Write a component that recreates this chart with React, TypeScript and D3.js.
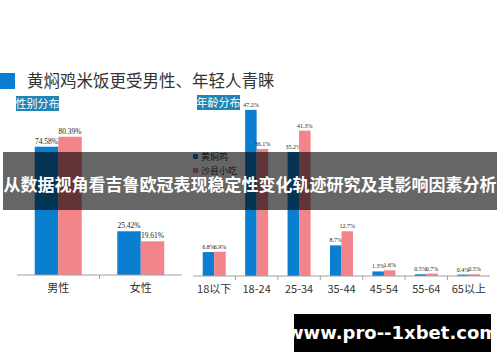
import React from 'react'
import * as d3 from 'd3'

// 性别分布
const genderCats = ['男性', '女性']
const hmjGender = [74.58, 25.42]
const sxGender = [80.39, 19.61]

// 年龄分布
const ageCats = ['18以下', '18-24', '25-34', '35-44', '45-54', '55-64', '65以上']
const hmjAge = [6.8, 47.2, 35.2, 8.7, 1.3, 0.5, 0.4]
const sxAge = [6.9, 36.1, 41.3, 12.7, 1.6, 0.7, 0.5]

const seriesNames = ['黄焖鸡', '沙县小吃']
const colors = ['#0a7fcf', '#f2848a']

const W = 500
const H = 362
const cjk = '"Noto Sans CJK SC", "Noto Sans", sans-serif'

const Bars = ({
  cats,
  a,
  b,
  x0,
  x1,
  base,
  top,
  max,
  group,
  fmt,
  labelSize,
}: {
  cats: string[]
  a: number[]
  b: number[]
  x0: number
  x1: number
  base: number
  top: number
  max: number
  group: number
  fmt: (v: number) => string
  labelSize: number
}) => {
  const x = d3.scaleBand<string>().domain(cats).range([x0, x1]).padding(0)
  const inner = d3.scaleBand<number>().domain([0, 1]).range([0, group]).padding(0)
  const y = d3.scaleLinear().domain([0, max]).range([base, top])
  const off = (x.bandwidth() - group) / 2
  return (
    <g>
      {cats.map((c, i) =>
        [a[i], b[i]].map((v, s) => {
          const bx = (x(c) ?? 0) + off + (inner(s) ?? 0)
          return (
            <g key={c + s}>
              <rect x={bx} y={y(v)} width={inner.bandwidth()} height={base - y(v)} fill={colors[s]} />
              <text
                x={bx + inner.bandwidth() / 2}
                y={y(v) - 3}
                textAnchor="middle"
                fontSize={labelSize}
                fontFamily='"Liberation Serif", serif'
                fill="#222"
              >
                {fmt(v)}
              </text>
            </g>
          )
        }),
      )}
      <line x1={x0} x2={x1} y1={base} y2={base} stroke="#a0a0a0" strokeWidth={1} />
      {d3.range(1, cats.length).map((i) => {
        const tx = x(cats[i]) ?? 0
        return <line key={i} x1={tx} x2={tx} y1={base} y2={base + 4} stroke="#a0a0a0" />
      })}
      {cats.map((c) => (
        <text
          key={c}
          x={(x(c) ?? 0) + x.bandwidth() / 2}
          y={base + 17}
          textAnchor="middle"
          fontSize={11}
          fontFamily={cjk}
          fill="#333"
        >
          {c}
        </text>
      ))}
    </g>
  )
}

const App = () => {
  return (
    <div style={{ position: 'absolute', left: 0, top: 0 }}>
      <svg width={W} height={H} style={{ display: 'block' }}>
        <rect width={W} height={H} fill="#fff" />
        {/* title */}
        <rect x={0} y={73} width={15} height={16} fill="#0a7fcf" />
        <text x={27} y={87} fontSize={16.5} fontFamily={cjk} fill="#333">
          黄焖鸡米饭更受男性、年轻人青睐
        </text>
        <rect x={16} y={96} width={43} height={15} fill="#1e85b5" />
        <text x={37.5} y={108} textAnchor="middle" fontSize={11} fontFamily={cjk} fill="#fff">
          性别分布
        </text>
        <rect x={197} y={95} width={43} height={15} fill="#1e85b5" />
        <text x={218.5} y={107} textAnchor="middle" fontSize={11} fontFamily={cjk} fill="#fff">
          年龄分布
        </text>

        <Bars
          cats={genderCats}
          a={hmjGender}
          b={sxGender}
          x0={17}
          x1={182}
          base={275}
          top={103}
          max={100}
          group={47}
          fmt={(v) => v.toFixed(2) + '%'}
          labelSize={7.5}
        />
        <Bars
          cats={ageCats}
          a={hmjAge}
          b={sxAge}
          x0={193}
          x1={490}
          base={276}
          top={100}
          max={50}
          group={23}
          fmt={(v) => v.toFixed(1) + '%'}
          labelSize={6}
        />

        {/* legend */}
        {seriesNames.map((n, i) => (
          <g key={n} transform={`translate(193,${154 + i * 14})`}>
            <rect x={0} y={0} width={5} height={5} fill={colors[i]} />
            <text x={8} y={6} fontSize={9} fontFamily={cjk} fill="#333">
              {n}
            </text>
          </g>
        ))}

        {/* overlay band */}
        <rect x={3} y={152} width={494} height={58} fill="rgba(0,0,0,0.6)" />
        <text
          x={250}
          y={191}
          textAnchor="middle"
          fontSize={17}
          fontWeight="bold"
          fontFamily={cjk}
          fill="#fff"
        >
          从数据视角看吉鲁欧冠表现稳定性变化轨迹研究及其影响因素分析
        </text>

        <rect x={294} y={314} width={197} height={38} fill="#000" />
        <text
          x={392.5}
          y={339}
          textAnchor="middle"
          fontSize={18}
          fontWeight="bold"
          fontFamily='"DejaVu Sans", sans-serif'
          fill="#fff"
        >
          www.pro--1xbet.com
        </text>
      </svg>
    </div>
  )
}

export default App
